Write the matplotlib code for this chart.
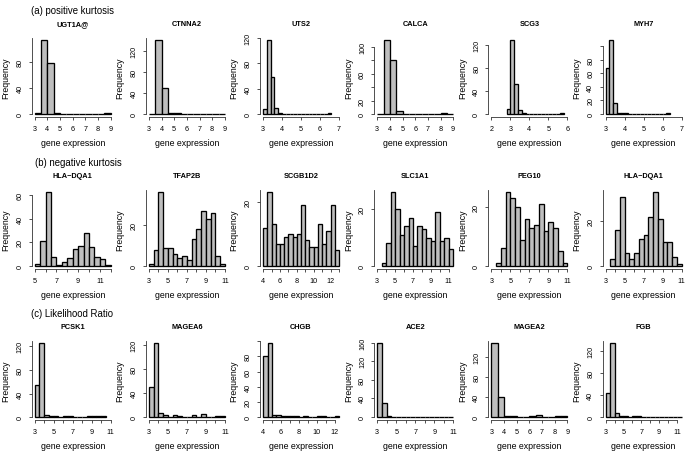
import matplotlib
matplotlib.use('Agg')
import matplotlib.pyplot as plt
import numpy as np

plt.rcParams['font.family'] = ['Liberation Sans', 'DejaVu Sans']

# section headings, one per row
sections = ['(a) positive kurtosis', '(b) negative kurtosis', '(c) Likelihood Ratio']

# gene names, row by row
genes = ['UGT1A@', 'CTNNA2', 'UTS2', 'CALCA', 'SCG3', 'MYH7',
         'HLA\u2212DQA1', 'TFAP2B', 'SCGB1D2', 'SLC1A1', 'PEG10', 'HLA\u2212DQA1',
         'PCSK1', 'MAGEA6', 'CHGB', 'ACE2', 'MAGEA2', 'FGB']

# left edge of the first bin and bin width
bin_start = [3.0, 3.0, 3.0, 3.0, 2.8, 3.0,
             5.0, 3.0, 4.0, 3.5, 3.5, 3.5,
             3.0, 3.0, 4.0, 3.0, 3.0, 3.0]
bin_width = [0.5, 0.5, 0.2, 0.5, 0.2, 0.2,
             0.5, 0.5, 0.5, 0.5, 0.5, 0.5,
             0.5, 0.5, 0.5, 0.5, 0.5, 0.5]

# histogram counts (estimated from the figure)
counts = [
    [1, 113, 78, 1, 0, 0, 0, 0, 0, 0, 0, 1],
    [0, 139, 50, 2, 2, 0, 0, 0, 0, 0, 0, 1],
    [8, 116, 58, 9, 1, 0, 0, 0, 0, 0, 0, 0, 0, 0, 0, 0, 0, 1],
    [0, 109, 80, 4, 0, 0, 0, 0, 0, 0, 1, 0],
    [8, 127, 51, 7, 1, 0, 0, 0, 0, 0, 0, 0, 0, 0, 1],
    [67, 108, 16, 2, 1, 1, 0, 0, 0, 0, 0, 0, 0, 0, 0, 0, 1],
    [2, 21, 62, 8, 1, 3, 7, 14, 17, 28, 16, 8, 6, 1],
    [1, 8, 36, 9, 9, 6, 4, 5, 3, 13, 18, 27, 23, 26, 5, 1],
    [12, 23, 13, 7, 7, 9, 10, 9, 10, 19, 8, 6, 6, 13, 7, 11, 19, 5],
    [1, 8, 26, 20, 11, 14, 17, 7, 14, 13, 10, 9, 19, 9, 10, 6],
    [1, 6, 25, 23, 20, 9, 16, 13, 14, 21, 12, 15, 13, 5, 1],
    [3, 16, 31, 6, 3, 6, 12, 14, 22, 33, 21, 11, 11, 4, 1],
    [54, 125, 4, 2, 1, 0, 1, 1, 0, 0, 0, 1, 1, 2, 1],
    [49, 122, 6, 3, 0, 3, 2, 0, 0, 3, 0, 5, 0, 0, 1, 1],
    [80, 97, 3, 3, 1, 1, 1, 2, 0, 2, 0, 0, 1, 1, 0, 0, 2],
    [158, 30, 2, 0, 0, 0, 1, 0, 0, 1, 0, 0, 0, 0, 1, 1],
    [146, 40, 3, 2, 0, 0, 3, 4, 0, 0, 2, 2],
    [44, 133, 7, 2, 2, 0, 2, 2, 0, 0, 0, 0, 0, 0, 1, 0, 1],
]

# x axis: first tick, last tick, show every n-th label
x_first = [3, 3, 3, 3, 2, 3,
           5, 3, 4, 3, 3, 3,
           3, 3, 4, 3, 3, 3]
x_last = [9, 9, 7, 9, 6, 7,
          12, 11, 13, 11, 11, 11,
          11, 11, 12, 11, 9, 11]
x_every = [1, 1, 1, 1, 1, 1,
           2, 2, 2, 2, 2, 2,
           2, 2, 2, 2, 1, 2]

# y axis ticks and the labels that R kept
y_ticks = [[0, 40, 80, 120], [0, 40, 80, 120, 160], [0, 40, 80, 120],
           [0, 20, 40, 60, 80, 100], [0, 40, 80, 120], [0, 20, 40, 60, 80, 100],
           [0, 20, 40, 60], [0, 20, 40], [0, 20, 40], [0, 20, 40], [0, 20, 40], [0, 20, 40],
           [0, 40, 80, 120, 160], [0, 40, 80, 120, 160], [0, 20, 40, 60, 80, 100],
           [0, 40, 80, 120, 160], [0, 40, 80, 120, 160], [0, 40, 80, 120, 160]]
y_hide = {3: [40, 80], 5: [100], 14: [100]}

W, H = 685, 456
fig = plt.figure(figsize=(W / 100, H / 100), dpi=100)

col_left = 31.7
col_pitch = 114.17
ax_w = 82
ax_h = 79.5
row_bottom = [118, 270, 421]
section_pos = [(31, 11), (35, 163), (31, 314)]

for txt, (sx, sy) in zip(sections, section_pos):
    fig.text(sx / W, 1 - sy / H, txt, fontsize=6.9, ha='left', va='center')

for i, gene in enumerate(genes):
    r, c = divmod(i, 6)
    left = (col_left + col_pitch * c) / W
    bottom = 1 - row_bottom[r] / H
    ax = fig.add_axes([left, bottom, ax_w / W, ax_h / H])

    cnt = np.array(counts[i])
    edges = bin_start[i] + bin_width[i] * np.arange(len(cnt) + 1)
    ax.bar(edges[:-1], cnt, width=bin_width[i], align='edge',
           color='#bebebe', edgecolor='black', linewidth=0.95)

    xt = np.arange(x_first[i], x_last[i] + 1)
    ax.set_xticks(xt)
    ax.set_xticklabels([str(v) if k % x_every[i] == 0 else '' for k, v in enumerate(xt)])
    yt = y_ticks[i]
    ax.set_yticks(yt)
    hide = y_hide.get(i, [])
    ax.set_yticklabels(['' if v in hide else str(v) for v in yt], rotation=90, va='center')

    # limits after the ticks, R style 4% padding
    lo = min(edges[0], x_first[i])
    hi = max(edges[-1], x_last[i])
    pad = 0.04 * (hi - lo)
    ax.set_xlim(lo - pad, hi + pad)
    m = cnt.max()
    ax.set_ylim(-0.04 * m, 1.04 * m)

    for s in ['top', 'right']:
        ax.spines[s].set_visible(False)
    ax.spines['left'].set_bounds(0, min(yt[-1], 1.04 * m))
    ax.spines['bottom'].set_bounds(x_first[i], x_last[i])
    for s in ['left', 'bottom']:
        ax.spines[s].set_linewidth(0.6)
        ax.spines[s].set_color('#333333')
    ax.tick_params(direction='out', length=2.4, width=0.6, color='#333333',
                   labelsize=5.2, pad=3.5)

    ax.set_title(gene, fontsize=5.3, fontweight='bold', pad=9)
    ax.set_xlabel('gene expression', fontsize=6.3, labelpad=4.5)
    ax.set_ylabel('Frequency', fontsize=6.3, labelpad=4.5)

fig.savefig('out.png', dpi=100)
